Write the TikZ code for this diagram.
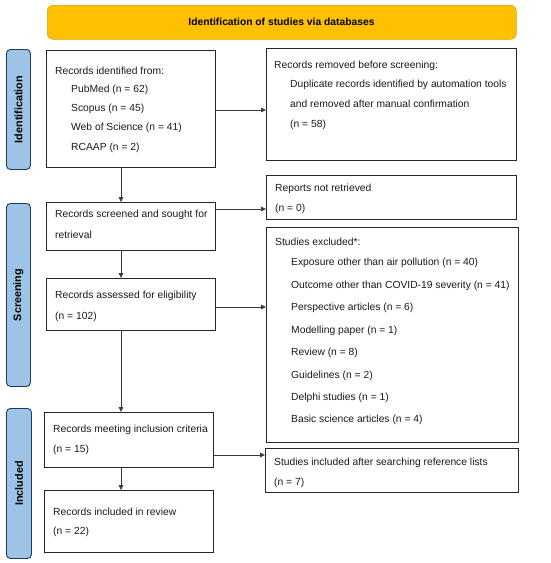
\documentclass[tikz,border=0pt]{standalone}
\usepackage{fontspec}
\setmainfont{Liberation Sans}
\usetikzlibrary{arrows.meta}
\definecolor{bannerfill}{HTML}{FFC000}
\definecolor{bannerline}{HTML}{D9A300}
\definecolor{sidefill}{HTML}{9DC3E6}
\definecolor{sideline}{HTML}{1F3A56}
\definecolor{lnc}{HTML}{3A3A3A}
\begin{document}
\begin{tikzpicture}[x=1pt,y=-1pt,
  box/.style={draw=black!85,line width=1pt,rectangle,inner sep=0pt,anchor=north west},
  side/.style={draw=sideline,fill=sidefill,line width=0.9pt,rounded corners=4pt,rectangle,inner sep=0pt,anchor=north west},
  banner/.style={draw=bannerline,fill=bannerfill,line width=0.6pt,rounded corners=6pt,rectangle,inner sep=0pt,anchor=north west},
  txt/.style={anchor=west,inner sep=0pt,font=\fontsize{10.3}{12}\selectfont,text=black!90},
  sidetxt/.style={rotate=90,inner sep=0pt,font=\fontsize{10.8}{12}\selectfont\bfseries},
  arr/.style={draw=lnc,line width=0.8pt,-{Triangle[length=5pt,width=4.5pt]}}]
\useasboundingbox (0,0) rectangle (550,563);
% banner
\node[banner,minimum width=469pt,minimum height=34pt] (ban) at (47,5) {};
\node[inner sep=0pt,font=\fontsize{10.3}{12}\selectfont\bfseries] (bant) at (281.5,22) {Identification of studies via databases};
% side labels
\node[side,minimum width=24pt,minimum height=120pt] (idl) at (6,49) {};
\node[sidetxt] (idlt) at (idl.center) {Identification};
\node[side,minimum width=24pt,minimum height=183pt] (scl) at (6,203) {};
\node[sidetxt] (sclt) at (scl.center) {Screening};
\node[side,minimum width=25pt,minimum height=150pt] (inl) at (6,408) {};
\node[sidetxt] (inlt) at (inl.center) {Included};
% boxes
\node[box,minimum width=169pt,minimum height=117pt] (b1) at (46,50) {};
\node[box,minimum width=250pt,minimum height=112pt] (rem) at (266,48) {};
\node[box,minimum width=250pt,minimum height=44pt] (rep) at (266,175) {};
\node[box,minimum width=169pt,minimum height=48pt] (scr) at (46,202) {};
\node[box,minimum width=252pt,minimum height=215pt] (exc) at (266,227) {};
\node[box,minimum width=169pt,minimum height=52pt] (ass) at (46,278) {};
\node[box,minimum width=169pt,minimum height=55pt] (mee) at (44,412) {};
\node[box,minimum width=253pt,minimum height=44pt] (add) at (265,448) {};
\node[box,minimum width=169pt,minimum height=62pt] (inc) at (44,490) {};
% texts
\node[txt] (t1) at (55,71) {Records identified from:};
\node[txt] (t2) at (71,90) {PubMed (n = 62)};
\node[txt] (t3) at (71,109) {Scopus (n = 45)};
\node[txt] (t4) at (71,128) {Web of Science (n = 41)};
\node[txt] (t5) at (71,148) {RCAAP (n = 2)};
\node[txt] (t6) at (274,66) {Records removed before screening:};
\node[txt] (t7) at (290,85) {Duplicate records identified by automation tools};
\node[txt] (t8) at (290,104) {and removed after manual confirmation};
\node[txt] (t9) at (290,125) {(n = 58)};
\node[txt] (t10) at (275,189) {Reports not retrieved};
\node[txt] (t11) at (275,209) {(n = 0)};
\node[txt] (t12) at (55,215) {Records screened and sought for};
\node[txt] (t13) at (55,235) {retrieval};
\node[txt] (t14) at (275,242) {Studies excluded*:};
\node[txt] (t15) at (291,263) {Exposure other than air pollution (n = 40)};
\node[txt] (t16) at (291,286) {Outcome other than COVID-19 severity (n = 41)};
\node[txt] (t17) at (291,308) {Perspective articles (n = 6)};
\node[txt] (t18) at (291,331) {Modelling paper (n = 1)};
\node[txt] (t19) at (291,353) {Review (n = 8)};
\node[txt] (t20) at (291,376) {Guidelines (n = 2)};
\node[txt] (t21) at (291,398) {Delphi studies (n = 1)};
\node[txt] (t22) at (291,420) {Basic science articles (n = 4)};
\node[txt] (t23) at (55,296) {Records assessed for eligibility};
\node[txt] (t24) at (55,317) {(n = 102)};
\node[txt] (t25) at (53,430) {Records meeting inclusion criteria};
\node[txt] (t26) at (53,450) {(n = 15)};
\node[txt] (t27) at (274,463) {Studies included after searching reference lists};
\node[txt] (t28) at (274,483) {(n = 7)};
\node[txt] (t29) at (53,512) {Records included in review};
\node[txt] (t30) at (53,532) {(n = 22)};
% connector helpers
\coordinate (cx) at (121,0);
\coordinate (y1) at (0,110);
\coordinate (y2) at (0,209);
\coordinate (y3) at (0,307);
\coordinate (y4) at (0,455);
% vertical arrows
\draw[arr] (b1.south -| cx) -- (scr.north -| cx);
\draw[arr] (scr.south -| cx) -- (ass.north -| cx);
\draw[arr] (ass.south -| cx) -- (mee.north -| cx);
\draw[arr] (mee.south -| cx) -- (inc.north -| cx);
% horizontal arrows
\draw[arr] (b1.east |- y1) -- (rem.west |- y1);
\draw[arr] (scr.east |- y2) -- (rep.west |- y2);
\draw[arr] (ass.east |- y3) -- (exc.west |- y3);
\draw[arr] (mee.east |- y4) -- (add.west |- y4);
\end{tikzpicture}
\end{document}
